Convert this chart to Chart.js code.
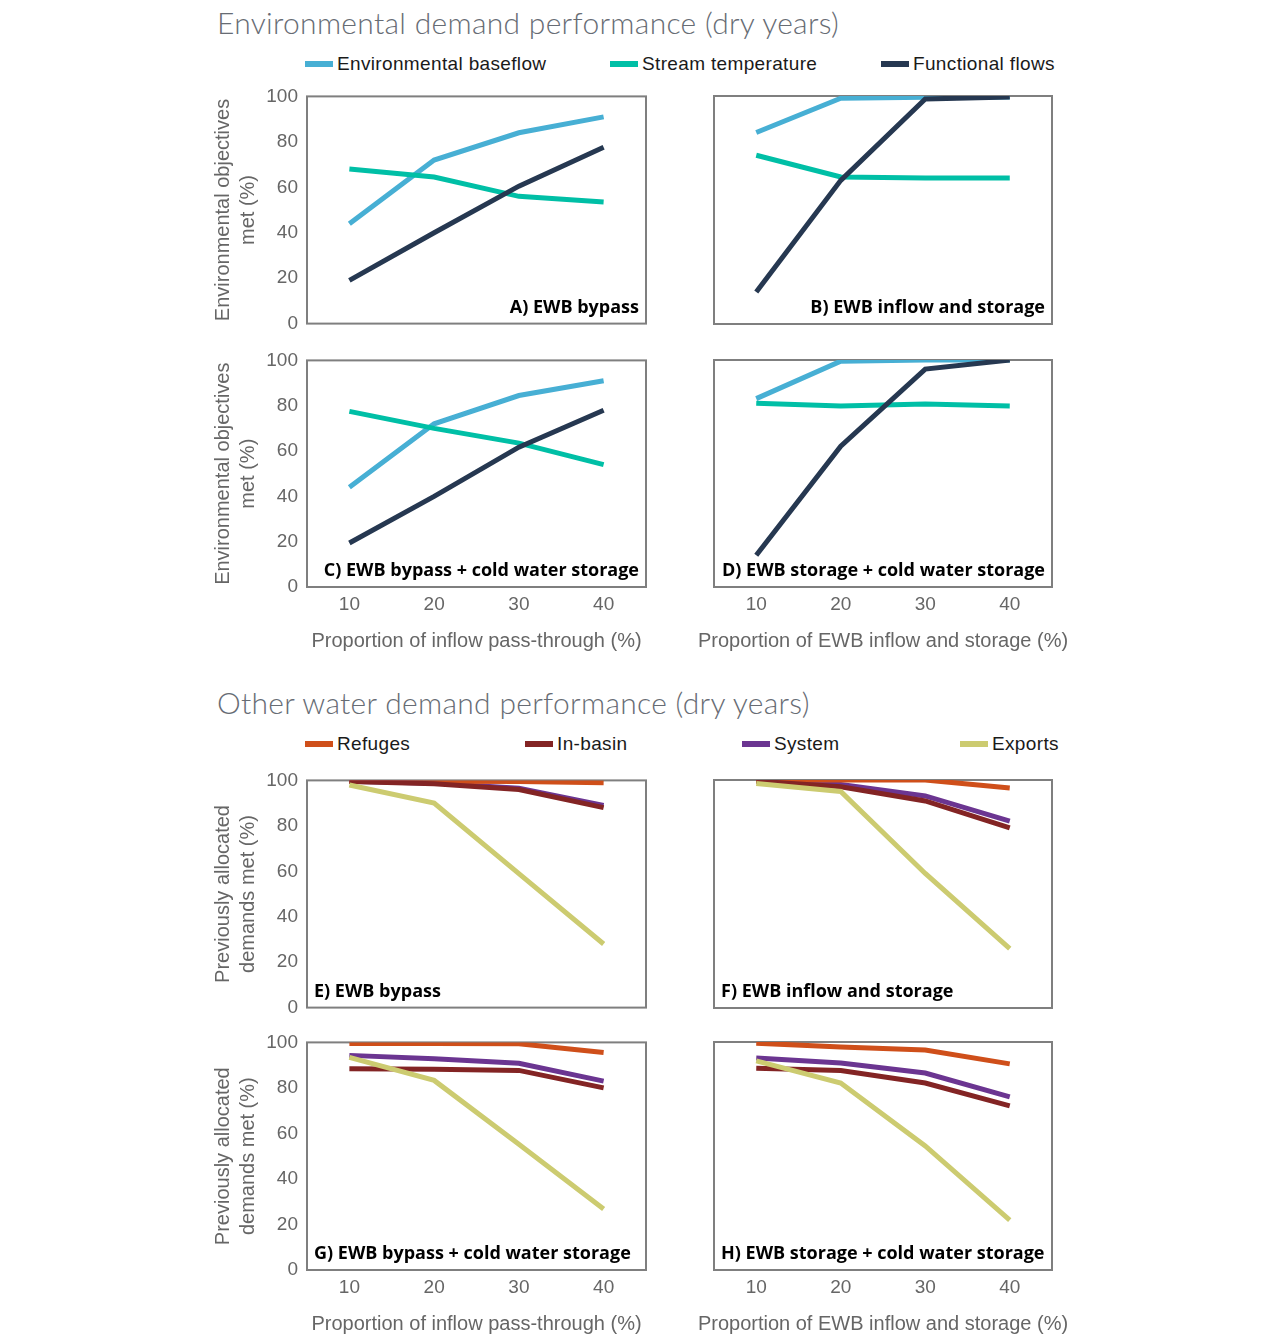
<!DOCTYPE html>
<html>
<head>
<meta charset="utf-8">
<script src="https://cdn.jsdelivr.net/npm/chart.js"></script>
<style>
body { margin: 0; background: #fff; width: 1280px; height: 1340px; position: relative; overflow: hidden; font-family: "Liberation Sans", Arial, sans-serif; }
.title { position: absolute; left: 217px; font-family: Lato, sans-serif; font-weight: 300; font-size: 30px; letter-spacing: 0.3px; color: #676c74; line-height: 1; white-space: nowrap; }
.item { position: absolute; font-size: 19px; letter-spacing: 0.35px; color: #1a1a1a; white-space: nowrap; line-height: 20px; }
.item i { display: inline-block; width: 28px; height: 6px; vertical-align: middle; margin-right: 4px; position: relative; top: -1px; }
canvas { position: absolute; }
</style>
</head>
<body>
<div class="title" style="top:7px">Environmental demand performance (dry years)</div>
<div id="leg1"></div>
<div class="title" style="top:687px">Other water demand performance (dry years)</div>
<div id="leg2"></div>

<script>
// x categories
const xLabels = ["10", "20", "30", "40"];

// environmental series: baseflow, stream temperature, functional flows
const envNames = ["Environmental baseflow", "Stream temperature", "Functional flows"];
const envColors = ["#47afd4", "#00bfa6", "#263851"];
const envOrder = [3, 2, 1];
const envA = [[44, 72, 84, 91], [68, 64.5, 56, 53.5], [19, 40, 60.5, 77.6]];
const envB = [[84, 99, 99.5, 99.6], [74, 64.5, 64, 64], [14, 63, 98.7, 99.6]];
const envC = [[44, 72, 84.5, 91], [77.5, 70, 63.5, 54], [19.4, 40, 61.7, 78]];
const envD = [[83, 99.5, 100, 100], [81, 79.7, 80.6, 79.7], [14, 62, 96, 100]];

// other demand series: refuges, in-basin, system, exports
const othNames = ["Refuges", "In-basin", "System", "Exports"];
const othColors = ["#cf4f1a", "#832424", "#6b3591", "#cccb70"];
const othOrder = [3, 2, 4, 1];
const othE = [[99.6, 99.6, 99.5, 99], [99.5, 98.5, 96, 88], [99.6, 98.8, 96.6, 89], [98, 90, 59, 28]];
const othF = [[100, 100, 100, 96.5], [99.5, 97, 90.8, 79], [99.6, 98, 93, 82], [98.5, 95, 59, 26]];
const othG = [[99.5, 99.5, 99.4, 95.6], [88.4, 88.2, 87.7, 80], [94.3, 92.8, 90.8, 83], [93.4, 83.3, 55.3, 26.8]];
const othH = [[99.5, 97.8, 96.5, 90.4], [88.5, 87.5, 82, 72], [93, 90.8, 86.4, 75.9], [91.7, 82, 54.4, 21.9]];

const tickColor = "#666";
const tickFont = { family: "Liberation Sans", size: 19 };
const axisFont = { family: "Liberation Sans", size: 20, lineHeight: 1.25 };

function legend(id, names, colors, lefts, top) {
    const el = document.getElementById(id);
    names.forEach((n, i) => {
        const d = document.createElement("div");
        d.className = "item";
        d.style.left = lefts[i] + "px";
        d.style.top = top + "px";
        d.innerHTML = '<i style="background:' + colors[i] + '"></i>' + n;
        el.appendChild(d);
    });
}
legend("leg1", envNames, envColors, [305, 610, 881], 54);
legend("leg2", othNames, othColors, [305, 525, 742, 960], 734);

const framePlugin = {
    id: "frame",
    beforeDatasetsDraw(chart) {
        const { ctx, chartArea: a } = chart;
        ctx.save();
        ctx.strokeStyle = "#7f7f7f";
        ctx.lineWidth = 2;
        ctx.strokeRect(a.left, a.top, a.right - a.left, a.bottom - a.top);
        ctx.restore();
    }
};

// panel letter inside the plot, plus the x axis title (may be wider than the plot)
const labelPlugin = {
    id: "panelLabel",
    afterDraw(chart, args, opts) {
        const { ctx, chartArea: a } = chart;
        ctx.save();
        ctx.font = "700 18px 'Open Sans'";
        ctx.fillStyle = "#000";
        ctx.textBaseline = "middle";
        ctx.textAlign = opts.align;
        const x = opts.align === "right" ? a.right - 7 : a.left + 7;
        ctx.fillText(opts.text, x, a.bottom - 16);
        if (opts.xTitle) {
            ctx.font = "20px 'Liberation Sans'";
            ctx.fillStyle = tickColor;
            ctx.textAlign = "center";
            ctx.fillText(opts.xTitle, (a.left + a.right) / 2, a.bottom + 54);
        }
        ctx.restore();
    }
};

// box: x, top of plot area (ay), plot height (ah), x-axis height (xh)
function panel(box, series, names, colors, order, o) {
    const pad = 20;
    const w = o.left ? 460 : 420;
    const h = pad + box.ah + (o.bottom ? box.xh : pad);
    const c = document.createElement("canvas");
    c.width = w; c.height = h;
    c.style.left = box.x + "px"; c.style.top = (box.ay - pad) + "px";
    c.style.width = w + "px"; c.style.height = h + "px";
    document.body.appendChild(c);

    new Chart(c, {
        type: "line",
        data: {
            labels: xLabels,
            datasets: series.map((d, i) => ({
                label: names[i],
                data: d,
                borderColor: colors[i],
                backgroundColor: colors[i],
                borderWidth: 5,
                pointRadius: 0,
                tension: 0,
                order: order[i]
            }))
        },
        options: {
            responsive: false,
            animation: false,
            events: [],
            layout: { padding: { left: 0, right: o.left ? 14 : 48, top: pad, bottom: o.bottom ? 0 : pad } },
            plugins: {
                legend: { display: false },
                tooltip: { enabled: false },
                panelLabel: { text: o.label, align: o.align, xTitle: o.xTitle }
            },
            scales: {
                x: {
                    offset: true,
                    grid: { display: false, drawTicks: false },
                    border: { display: false },
                    ticks: { display: o.bottom, padding: 6, color: tickColor, font: tickFont },
                    afterFit(s) { s.height = o.bottom ? box.xh : 0; }
                },
                y: {
                    min: 0, max: 100,
                    grid: { display: false, drawTicks: false },
                    border: { display: false },
                    ticks: { display: o.left, stepSize: 20, padding: 9, color: tickColor, font: tickFont },
                    title: { display: o.left, text: o.yTitle, color: tickColor, font: axisFont, padding: { top: 11, bottom: 0 } },
                    afterFit(s) { s.width = o.left ? 107 : 34; }
                }
            }
        },
        plugins: [framePlugin, labelPlugin]
    });
}

const envY = ["Environmental objectives", "met (%)"];
const othY = ["Previously allocated", "demands met (%)"];
const xL = "Proportion of inflow pass-through (%)";
const xR = "Proportion of EWB inflow and storage (%)";

panel({ x: 200, ay: 96, ah: 228 }, envA, envNames, envColors, envOrder, { left: true, bottom: false, yTitle: envY, label: "A) EWB bypass", align: "right" });
panel({ x: 680, ay: 96, ah: 228 }, envB, envNames, envColors, envOrder, { left: false, bottom: false, label: "B) EWB inflow and storage", align: "right" });
panel({ x: 200, ay: 360, ah: 227, xh: 73 }, envC, envNames, envColors, envOrder, { left: true, bottom: true, yTitle: envY, xTitle: xL, label: "C) EWB bypass + cold water storage", align: "right" });
panel({ x: 680, ay: 360, ah: 227, xh: 73 }, envD, envNames, envColors, envOrder, { left: false, bottom: true, xTitle: xR, label: "D) EWB storage + cold water storage", align: "right" });

panel({ x: 200, ay: 780, ah: 228 }, othE, othNames, othColors, othOrder, { left: true, bottom: false, yTitle: othY, label: "E) EWB bypass", align: "left" });
panel({ x: 680, ay: 780, ah: 228 }, othF, othNames, othColors, othOrder, { left: false, bottom: false, label: "F) EWB inflow and storage", align: "left" });
panel({ x: 200, ay: 1042, ah: 228, xh: 70 }, othG, othNames, othColors, othOrder, { left: true, bottom: true, yTitle: othY, xTitle: xL, label: "G) EWB bypass + cold water storage", align: "left" });
panel({ x: 680, ay: 1042, ah: 228, xh: 70 }, othH, othNames, othColors, othOrder, { left: false, bottom: true, xTitle: xR, label: "H) EWB storage + cold water storage", align: "left" });
</script>
</body>
</html>
